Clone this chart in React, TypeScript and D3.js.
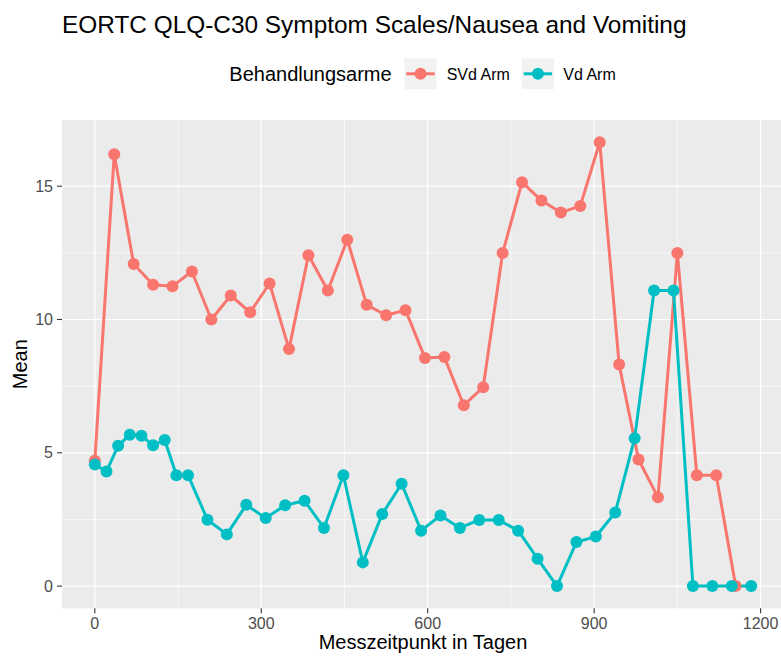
import React from "react";
import * as d3 from "d3";

const svdDays = [0, 35, 70, 105, 140, 175, 210, 245, 280, 315, 350, 385, 420, 455, 490, 525, 560, 595, 630, 665, 700, 735, 770, 805, 840, 875, 910, 945, 980, 1015, 1050, 1085, 1120, 1155];
const svdMeans = [4.7, 16.2, 12.08, 11.3, 11.25, 11.8, 10.0, 10.9, 10.27, 11.35, 8.89, 12.41, 11.09, 12.99, 10.55, 10.16, 10.35, 8.56, 8.59, 6.78, 7.46, 12.49, 15.15, 14.46, 14.01, 14.26, 16.65, 8.31, 4.75, 3.33, 12.49, 4.16, 4.16, 0];

const vdDays = [0, 21, 42, 63, 84, 105, 126, 147, 168, 203, 238, 273, 308, 343, 378, 413, 448, 483, 518, 553, 588, 623, 658, 693, 728, 763, 798, 833, 868, 903, 938, 973, 1008, 1043, 1078, 1113, 1148, 1183];
const vdMeans = [4.56, 4.3, 5.26, 5.68, 5.64, 5.28, 5.48, 4.16, 4.16, 2.49, 1.94, 3.05, 2.55, 3.03, 3.2, 2.18, 4.16, 0.89, 2.7, 3.84, 2.08, 2.65, 2.18, 2.48, 2.48, 2.08, 1.03, 0, 1.65, 1.86, 2.76, 5.55, 11.09, 11.09, 0, 0, 0, 0];

const seriesNames = ["SVd Arm", "Vd Arm"];
const seriesColors = ["#F8766D", "#00BFC4"];
const xTicks = [0, 300, 600, 900, 1200];
const xMinor = [150, 450, 750, 1050];
const yTicks = [0, 5, 10, 15];
const yMinor = [2.5, 7.5, 12.5];

const titleText = "EORTC QLQ-C30 Symptom Scales/Nausea and Vomiting";
const legendTitle = "Behandlungsarme";
const xLabel = "Messzeitpunkt in Tagen";
const yLabel = "Mean";

const W = 781;
const H = 657;
const FONT = "'Liberation Sans', Arial, Helvetica, sans-serif";

export default function App() {
  const series = [
    { name: seriesNames[0], color: seriesColors[0], pts: svdDays.map((d, i) => [d, svdMeans[i]] as [number, number]) },
    { name: seriesNames[1], color: seriesColors[1], pts: vdDays.map((d, i) => [d, vdMeans[i]] as [number, number]) },
  ];
  const allX = [...svdDays, ...vdDays];
  const allY = [...svdMeans, ...vdMeans];
  const [x0, x1] = d3.extent(allX) as [number, number];
  const [y0, y1] = d3.extent(allY) as [number, number];
  const ex = (x1 - x0) * 0.05;
  const ey = (y1 - y0) * 0.05;

  const panel = { left: 62, right: 784, top: 120, bottom: 608.3 };
  const x = d3.scaleLinear().domain([x0 - ex, x1 + ex]).range([panel.left, panel.right]);
  const y = d3.scaleLinear().domain([y0 - ey, y1 + ey]).range([panel.bottom, panel.top]);

  const line = d3.line<[number, number]>().x((d) => x(d[0])).y((d) => y(d[1]));

  const legendKeys = [
    { x: 404.3, textX: 446.7 },
    { x: 521.7, textX: 563.3 },
  ];

  return (
    <svg width={W} height={H} style={{ position: "absolute", left: 0, top: 0, background: "#fff" }} fontFamily={FONT}>
      <rect x={0} y={0} width={W} height={H} fill="#fff" />
      <text x={62} y={33} fontSize={24.4} fill="#000">{titleText}</text>

      {/* legend */}
      <text x={229.3} y={81} fontSize={20} fill="#000">{legendTitle}</text>
      {series.map((s, i) => (
        <g key={s.name}>
          <rect x={legendKeys[i].x} y={58.3} width={32.4} height={31} fill="#F2F2F2" />
          <line x1={legendKeys[i].x + 2} x2={legendKeys[i].x + 30.4} y1={73.8} y2={73.8} stroke={s.color} strokeWidth={3} />
          <circle cx={legendKeys[i].x + 16.2} cy={73.8} r={6} fill={s.color} />
          <text x={legendKeys[i].textX} y={79.6} fontSize={16} fill="#000">{s.name}</text>
        </g>
      ))}

      {/* panel */}
      <rect x={panel.left} y={panel.top} width={panel.right - panel.left} height={panel.bottom - panel.top} fill="#EBEBEB" />
      {yMinor.map((t) => (
        <line key={"ym" + t} x1={panel.left} x2={panel.right} y1={y(t)} y2={y(t)} stroke="#fff" strokeWidth={0.6} />
      ))}
      {xMinor.map((t) => (
        <line key={"xm" + t} x1={x(t)} x2={x(t)} y1={panel.top} y2={panel.bottom} stroke="#fff" strokeWidth={0.6} />
      ))}
      {yTicks.map((t) => (
        <line key={"yM" + t} x1={panel.left} x2={panel.right} y1={y(t)} y2={y(t)} stroke="#fff" strokeWidth={1.2} />
      ))}
      {xTicks.map((t) => (
        <line key={"xM" + t} x1={x(t)} x2={x(t)} y1={panel.top} y2={panel.bottom} stroke="#fff" strokeWidth={1.2} />
      ))}

      {/* lines then points */}
      {series.map((s) => (
        <path key={"l" + s.name} d={line(s.pts) || ""} fill="none" stroke={s.color} strokeWidth={3} strokeLinejoin="round" />
      ))}
      {series.map((s) => (
        <g key={"p" + s.name}>
          {s.pts.map((p, i) => (
            <circle key={i} cx={x(p[0])} cy={y(p[1])} r={6} fill={s.color} />
          ))}
        </g>
      ))}

      {/* axes */}
      {yTicks.map((t) => (
        <g key={"yt" + t}>
          <line x1={panel.left - 5} x2={panel.left} y1={y(t)} y2={y(t)} stroke="#333" strokeWidth={1.1} />
          <text x={panel.left - 9} y={y(t)} dy="0.35em" textAnchor="end" fontSize={16} fill="#4D4D4D">{t}</text>
        </g>
      ))}
      {xTicks.map((t) => (
        <g key={"xt" + t}>
          <line x1={x(t)} x2={x(t)} y1={panel.bottom} y2={panel.bottom + 5} stroke="#333" strokeWidth={1.1} />
          <text x={x(t)} y={629} textAnchor="middle" fontSize={16} fill="#4D4D4D">{t}</text>
        </g>
      ))}
      <text x={(panel.left + panel.right) / 2} y={649} textAnchor="middle" fontSize={20} fill="#000">{xLabel}</text>
      <text transform={`translate(27,${(panel.top + panel.bottom) / 2}) rotate(-90)`} textAnchor="middle" fontSize={20} fill="#000">{yLabel}</text>
    </svg>
  );
}
